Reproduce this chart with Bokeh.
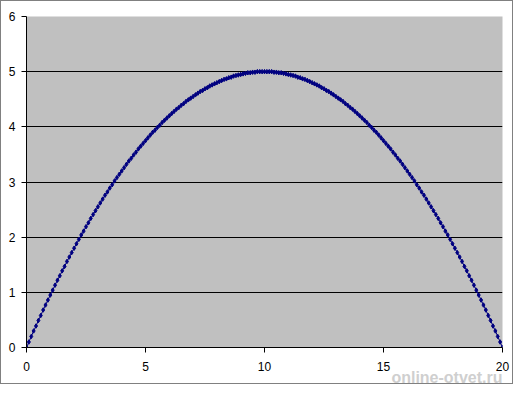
from bokeh.plotting import figure
from bokeh.models import Range1d, FixedTicker, Title
from bokeh.embed import file_html
from bokeh.resources import INLINE

x_values = [
    0.0, 0.1, 0.2, 0.3, 0.4, 0.5, 0.6, 0.7, 0.8, 0.9,
    1.0, 1.1, 1.2, 1.3, 1.4, 1.5, 1.6, 1.7, 1.8, 1.9,
    2.0, 2.1, 2.2, 2.3, 2.4, 2.5, 2.6, 2.7, 2.8, 2.9,
    3.0, 3.1, 3.2, 3.3, 3.4, 3.5, 3.6, 3.7, 3.8, 3.9,
    4.0, 4.1, 4.2, 4.3, 4.4, 4.5, 4.6, 4.7, 4.8, 4.9,
    5.0, 5.1, 5.2, 5.3, 5.4, 5.5, 5.6, 5.7, 5.8, 5.9,
    6.0, 6.1, 6.2, 6.3, 6.4, 6.5, 6.6, 6.7, 6.8, 6.9,
    7.0, 7.1, 7.2, 7.3, 7.4, 7.5, 7.6, 7.7, 7.8, 7.9,
    8.0, 8.1, 8.2, 8.3, 8.4, 8.5, 8.6, 8.7, 8.8, 8.9,
    9.0, 9.1, 9.2, 9.3, 9.4, 9.5, 9.6, 9.7, 9.8, 9.9,
    10.0, 10.1, 10.2, 10.3, 10.4, 10.5, 10.6, 10.7, 10.8, 10.9,
    11.0, 11.1, 11.2, 11.3, 11.4, 11.5, 11.6, 11.7, 11.8, 11.9,
    12.0, 12.1, 12.2, 12.3, 12.4, 12.5, 12.6, 12.7, 12.8, 12.9,
    13.0, 13.1, 13.2, 13.3, 13.4, 13.5, 13.6, 13.7, 13.8, 13.9,
    14.0, 14.1, 14.2, 14.3, 14.4, 14.5, 14.6, 14.7, 14.8, 14.9,
    15.0, 15.1, 15.2, 15.3, 15.4, 15.5, 15.6, 15.7, 15.8, 15.9,
    16.0, 16.1, 16.2, 16.3, 16.4, 16.5, 16.6, 16.7, 16.8, 16.9,
    17.0, 17.1, 17.2, 17.3, 17.4, 17.5, 17.6, 17.7, 17.8, 17.9,
    18.0, 18.1, 18.2, 18.3, 18.4, 18.5, 18.6, 18.7, 18.8, 18.9,
    19.0, 19.1, 19.2, 19.3, 19.4, 19.5, 19.6, 19.7, 19.8, 19.9,
    20.0,
]

y_values = [
    0.00, 0.10, 0.20, 0.30, 0.39, 0.49, 0.58, 0.68, 0.77, 0.86,
    0.95, 1.04, 1.13, 1.22, 1.30, 1.39, 1.47, 1.56, 1.64, 1.72,
    1.80, 1.88, 1.96, 2.04, 2.11, 2.19, 2.26, 2.34, 2.41, 2.48,
    2.55, 2.62, 2.69, 2.76, 2.82, 2.89, 2.95, 3.02, 3.08, 3.14,
    3.20, 3.26, 3.32, 3.38, 3.43, 3.49, 3.54, 3.60, 3.65, 3.70,
    3.75, 3.80, 3.85, 3.90, 3.94, 3.99, 4.03, 4.08, 4.12, 4.16,
    4.20, 4.24, 4.28, 4.32, 4.35, 4.39, 4.42, 4.46, 4.49, 4.52,
    4.55, 4.58, 4.61, 4.64, 4.66, 4.69, 4.71, 4.74, 4.76, 4.78,
    4.80, 4.82, 4.84, 4.86, 4.87, 4.89, 4.90, 4.92, 4.93, 4.94,
    4.95, 4.96, 4.97, 4.98, 4.98, 4.99, 4.99, 5.00, 5.00, 5.00,
    5.00,
    5.00, 5.00, 5.00, 4.99, 4.99, 4.98, 4.98, 4.97, 4.96, 4.95,
    4.94, 4.93, 4.92, 4.90, 4.89, 4.87, 4.86, 4.84, 4.82, 4.80,
    4.78, 4.76, 4.74, 4.71, 4.69, 4.66, 4.64, 4.61, 4.58, 4.55,
    4.52, 4.49, 4.46, 4.42, 4.39, 4.35, 4.32, 4.28, 4.24, 4.20,
    4.16, 4.12, 4.08, 4.03, 3.99, 3.94, 3.90, 3.85, 3.80, 3.75,
    3.70, 3.65, 3.60, 3.54, 3.49, 3.43, 3.38, 3.32, 3.26, 3.20,
    3.14, 3.08, 3.02, 2.95, 2.89, 2.82, 2.76, 2.69, 2.62, 2.55,
    2.48, 2.41, 2.34, 2.26, 2.19, 2.11, 2.04, 1.96, 1.88, 1.80,
    1.72, 1.64, 1.56, 1.47, 1.39, 1.30, 1.22, 1.13, 1.04, 0.95,
    0.86, 0.77, 0.68, 0.58, 0.49, 0.39, 0.30, 0.20, 0.10, 0.00,
]

x_ticks = [0, 5, 10, 15, 20]
y_ticks = [0, 1, 2, 3, 4, 5, 6]
watermark = "online-otvet.ru"

FONT = "Liberation Sans"

p = figure(width=513, height=384, output_backend="svg", toolbar_location=None,
           x_range=Range1d(0, 20), y_range=Range1d(0, 6),
           min_border_left=25, min_border_right=12, min_border_top=15, min_border_bottom=38)

p.background_fill_color = "#C0C0C0"
p.border_fill_color = "white"
p.outline_line_color = None
p.styles = {"border": "1px solid #808080", "box-sizing": "border-box"}

p.xgrid.grid_line_color = None
p.ygrid.grid_line_color = "#000000"
p.ygrid.grid_line_width = 1

for ax, ticks in ((p.xaxis, x_ticks), (p.yaxis, y_ticks)):
    ax.ticker = FixedTicker(ticks=ticks)
    ax.axis_line_color = "#000000"
    ax.major_tick_line_color = "#000000"
    ax.major_tick_out = 5
    ax.major_tick_in = 0
    ax.minor_tick_line_color = None
    ax.major_label_text_font = FONT
    ax.major_label_text_font_size = "12px"
    ax.major_label_text_color = "#000000"

p.xaxis.major_label_standoff = 9
p.yaxis.major_label_standoff = 6

# watermark under the x axis, at its right end
p.add_layout(Title(text=watermark, align="right", text_font=FONT,
                   text_font_size="16px", text_font_style="bold",
                   text_color="#cfcfcf", standoff=-24), "below")

p.line(x_values, y_values, line_color="#000080", line_width=1)
p.scatter(x_values, y_values, marker="diamond", size=4.5, fill_color="#000080",
          line_color="#000080")

open("out.html", "w").write(file_html(p, INLINE))
